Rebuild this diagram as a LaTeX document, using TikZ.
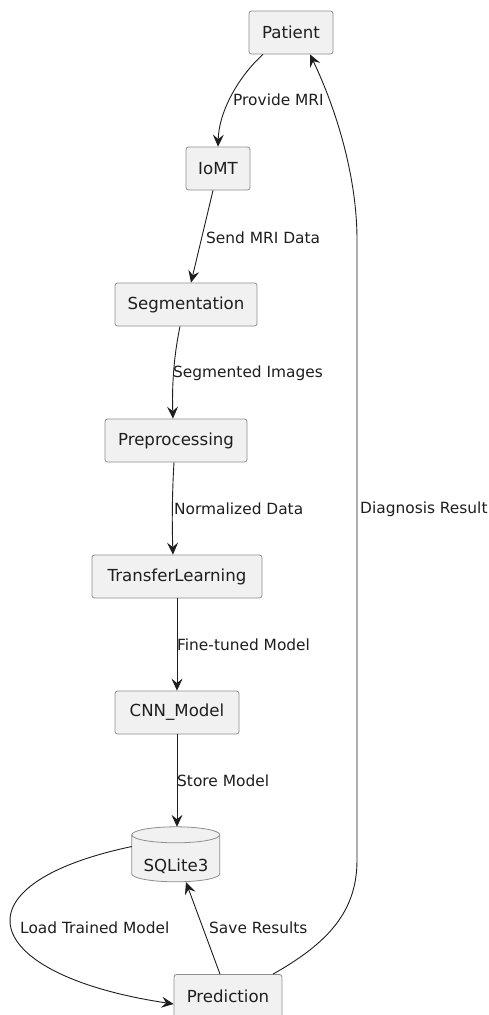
\documentclass[tikz,border=0pt]{standalone}
\usepackage{fontspec}
\setmainfont{DejaVu Sans}
\usetikzlibrary{arrows.meta}
\definecolor{boxfill}{HTML}{F1F1F1}
\definecolor{boxline}{HTML}{8E8E8E}
\definecolor{ink}{HTML}{1E1E1E}
\tikzset{
  box/.style={draw=boxline, line width=0.8pt, fill=boxfill, rounded corners=2.5pt,
    inner sep=0pt, minimum height=43pt, text=ink,
    font=\fontsize{16.6}{19}\selectfont},
  lbl/.style={anchor=west, inner sep=0pt, text=ink, font=\fontsize{15.4}{18}\selectfont},
  flow/.style={draw=ink, line width=0.9pt, -{Stealth[length=12pt,width=11pt,inset=4.5pt]}}
}
\begin{document}
\begin{tikzpicture}[x=1pt,y=-1pt]
\useasboundingbox (0,0) rectangle (489,1015);
\clip (0,0) rectangle (489,1015);
\fill[white] (0,0) rectangle (489,1015);

% process steps
\node[box, minimum width=84pt]  (patient)  at (291,32.5) {Patient};
\node[box, minimum width=64pt]  (iomt)     at (218,168.5) {IoMT};
\node[box, minimum width=142pt] (seg)      at (186,304.5) {Segmentation};
\node[box, minimum width=142pt] (pre)      at (176,440.5) {Preprocessing};
\node[box, minimum width=170pt] (transfer) at (177,576.5) {TransferLearning};
\node[box, minimum width=124pt] (cnn)      at (177,712.5) {CNN\_Model};
\node[box, minimum width=108pt] (pred)     at (228,996) {Prediction};

% database cylinder
\node[minimum width=88pt, minimum height=55pt, inner sep=0pt] (sql) at (176,854.5) {};
\draw[boxline, line width=0.8pt, fill=boxfill]
  (sql.north west) ++(0,8) -- ++(0,39) arc[start angle=180, end angle=360, x radius=44, y radius=-8]
  -- ++(0,-39) arc[start angle=0, end angle=180, x radius=44, y radius=-8] -- cycle;
\draw[boxline, line width=0.8pt]
  (sql.north west) ++(0,8) arc[start angle=180, end angle=360, x radius=44, y radius=-8];
\node[text=ink, font=\fontsize{16.6}{19}\selectfont] (sqltext) at (176,866) {SQLite3};

% connectors
\draw[flow] (patient.south) ++(-28,0) coordinate (p1)
  (p1) .. controls (240,75) and (219,110) .. (iomt.north);
\draw[flow] ([xshift=-5pt]iomt.south) -- ([xshift=5pt]seg.north);
\draw[flow] ([xshift=-6pt]seg.south) .. controls (173,360) and (172,390) .. ([xshift=-3pt]pre.north);
\draw[flow] ([xshift=-2pt]pre.south) .. controls (172,495) and (172,525) .. ([xshift=-4pt]transfer.north);
\draw[flow] (transfer.south) -- (cnn.north);
\draw[flow] (cnn.south) -- (cnn.south |- sql.north);
\draw[flow] ([yshift=8pt]sql.west) .. controls (-50,885) and (-20,975) .. ([yshift=-8pt]pred.west);
\draw[flow] ([xshift=-8pt]pred.north) -- ([xshift=10pt]sql.south);
\draw[flow] ([xshift=45pt]pred.north) .. controls (330,942) and (357,910) .. (357,860)
  -- (357,240) .. controls (357,170) and (332,100) .. ([xshift=19pt]patient.south);

% connector labels
\node[lbl] (l1) at (233,100) {Provide MRI};
\node[lbl] (l2) at (206,238) {Send MRI Data};
\node[lbl] (l3) at (173,373) {Segmented Images};
\node[lbl] (l4) at (174,509) {Normalized Data};
\node[lbl] (l5) at (177,645) {Fine-tuned Model};
\node[lbl] (l6) at (177,781) {Store Model};
\node[lbl] (l7) at (360,509) {Diagnosis Result};
\node[lbl] (l8) at (20,928) {Load Trained Model};
\node[lbl] (l9) at (209,928) {Save Results};
\end{tikzpicture}
\end{document}
